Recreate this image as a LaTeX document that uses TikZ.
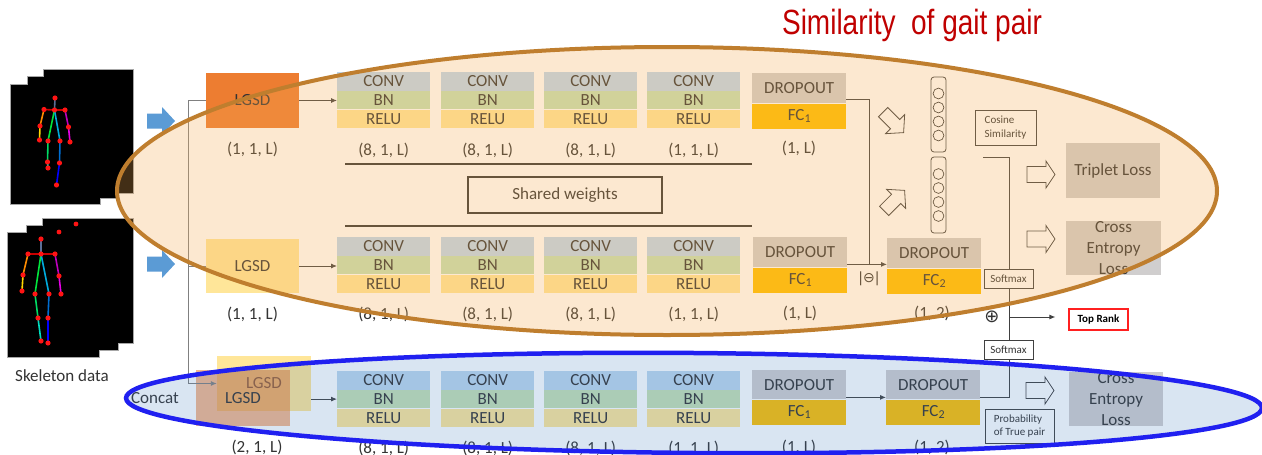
\documentclass[tikz,border=0pt]{standalone}
\usepackage{fontspec}
\usepackage{graphicx}
\setmainfont{Carlito}
\newfontfamily\titlefont{Liberation Sans}
\newfontfamily\symfont{DejaVu Sans}
\usetikzlibrary{calc,arrows.meta}

% palette
\definecolor{txt}{HTML}{333333}
\definecolor{convc}{HTML}{BDD7EE}
\definecolor{bnc}{HTML}{C5E0B4}
\definecolor{reluc}{HTML}{FFE699}
\definecolor{dropc}{HTML}{D0CECE}
\definecolor{fcc}{HTML}{FFC000}
\definecolor{lgsdo}{HTML}{ED7D31}
\definecolor{lossc}{HTML}{D0CECE}
\definecolor{peach}{rgb}{0.96,0.68,0.33}
\definecolor{tintblue}{HTML}{447DC0}
\definecolor{ringo}{HTML}{BF7E2E}
\definecolor{ringb}{HTML}{2020F0}
\definecolor{arrowblue}{HTML}{5B9BD5}
\definecolor{titlered}{HTML}{C00000}
\definecolor{wirec}{HTML}{404040}
\definecolor{trunkc}{HTML}{808080}
\definecolor{framegray}{HTML}{A6A6A6}
\definecolor{rankred}{HTML}{FF2020}
% limb colours of the stick figures
\definecolor{limbhead}{RGB}{90,110,150}
\definecolor{limbsh}{RGB}{200,0,0}
\definecolor{limblua}{RGB}{255,140,0}
\definecolor{limblfa}{RGB}{255,215,0}
\definecolor{limbrua}{RGB}{190,0,190}
\definecolor{limbrfa}{RGB}{230,0,230}
\definecolor{limbltr}{RGB}{0,230,60}
\definecolor{limblth}{RGB}{0,220,100}
\definecolor{limblsh}{RGB}{0,220,190}
\definecolor{limbrtr}{RGB}{0,170,220}
\definecolor{limbrth}{RGB}{0,110,210}
\definecolor{limbrsh}{RGB}{0,0,255}
\definecolor{jointc}{RGB}{255,20,20}

\tikzset{
  band/.style={draw=none, inner sep=0pt, minimum width=93pt, minimum height=18.33pt,
    anchor=north west, text=txt, font=\fontsize{17}{20}\selectfont},
  lbl/.style={text=txt, font=\fontsize{17}{20}\selectfont, inner sep=0pt},
  tiny/.style={text=txt, font=\fontsize{11}{13.5}\selectfont, inner sep=0pt},
  wire/.style={draw=wirec, line width=0.9pt},
  trunkline/.style={draw=trunkc, line width=0.9pt},
  tip/.style={-{Latex[length=6pt,width=5pt]}},
  lossbox/.style={fill=lossc, inner sep=0pt, text=txt, align=center,
    font=\fontsize{17}{21}\selectfont},
  smallbox/.style={draw=wirec, line width=0.6pt, fill=white, inner sep=0pt},
  blockarrow/.pic={\fill[arrowblue] (-14,-7.5) -- (1,-7.5) -- (1,-14) -- (14,0)
    -- (1,14) -- (1,7.5) -- (-14,7.5) -- cycle;},
  outlinearrow/.pic={\filldraw[fill=white, draw=wirec, line width=0.8pt]
    (-14,-8) -- (5,-8) -- (5,-13.5) -- (14,0) -- (5,13.5) -- (5,8) -- (-14,8) -- cycle;},
  diagarrow/.pic={\filldraw[fill=white, draw=wirec, line width=0.8pt]
    (-14,-6.5) -- (3,-6.5) -- (3,-13.5) -- (15,0) -- (3,13.5) -- (3,6.5) -- (-14,6.5) -- cycle;},
}

% CONV / BN / RELU stack: name, left x, top y
\newcommand\cbrstack[3]{%
  \node[band, fill=convc] (#1c) at (#2,#3) {CONV};
  \node[band, fill=bnc] (#1b) at (#1c.south west) {BN};
  \node[band, fill=reluc] (#1r) at (#1b.south west) {RELU};}

% DROPOUT / FC block: name, left x, top y, index, dropout height
\newcommand\dfcblock[5]{%
  \node[band, minimum width=94pt, minimum height=#5pt, fill=dropc] (#1d) at (#2,#3) {DROPOUT};
  \node[band, minimum width=94pt, minimum height=25pt, fill=fcc] (#1f) at (#1d.south west)
    {FC\raisebox{-1.5pt}{\fontsize{12}{12}\selectfont #4}};}

% stick figure through the joints named #1h, #1n, ...
\newcommand\skeleton[1]{%
  \begin{scope}[line width=1.6pt, line cap=round]
    \draw[limbhead] (#1h) -- (#1n);
    \draw[limbsh] (#1ls) -- (#1n) -- (#1rs);
    \draw[limblua] (#1ls) -- (#1le);
    \draw[limblfa] (#1le) -- (#1lw);
    \draw[limbrua] (#1rs) -- (#1re);
    \draw[limbrfa] (#1re) -- (#1rw);
    \draw[limbltr] (#1n) -- (#1lh);
    \draw[limblth] (#1lh) -- (#1lk);
    \draw[limblsh] (#1lk) -- (#1la);
    \draw[limbrtr] (#1n) -- (#1rh);
    \draw[limbrth] (#1rh) -- (#1rk);
    \draw[limbrsh] (#1rk) -- (#1ra);
  \end{scope}
  \foreach \j in {h,n,ls,rs,le,re,lw,rw,lh,rh,lk,rk,la,ra}
    \fill[jointc] (#1\j) circle (2.6pt);}

\begin{document}
\begin{tikzpicture}[x=1pt,y=-1pt]
\useasboundingbox (0,0) rectangle (1262,455);
\fill[white] (0,0) rectangle (1262,455);

% ---------- skeleton frames: outlines first, then the black faces ----------
\foreach \xa/\ya/\xb/\yb in {44/70/133/193, 28/77/117/198, 11/85/100/204,
                             43/219/133/343, 27/226/118/350, 8/233/99/357}
  \draw[framegray, line width=1.2pt] (\xa,\ya) rectangle (\xb,\yb);
\foreach \xa/\ya/\xb/\yb in {44/70/133/193, 28/77/117/198, 11/85/100/204,
                             43/219/133/343, 27/226/118/350, 8/233/99/357}
  \fill[black] (\xa,\ya) rectangle (\xb,\yb);

\foreach \n/\x/\y in {h/55/98, n/54.5/110, ls/44/109.5, rs/65/110, le/40/126, re/68.5/127,
                      lw/39.5/140, rw/70/142, lh/48/141, rh/60/141, lk/47.5/162, rk/59.5/163,
                      la/48/168, ra/56.5/185}
  \coordinate (a\n) at (\x,\y);
\foreach \n/\x/\y in {h/41/239, n/41/254, ls/28/254, rs/55/254, le/23/275, re/59/276,
                      lw/22/291, rw/61/294, lh/35/294, rh/49/294, lk/38/318, rk/48/318,
                      la/41/341, ra/48/343}
  \coordinate (b\n) at (\x,\y);
\skeleton{a}
\skeleton{b}
\fill[jointc] (59,232) circle (2.4pt) (76,224) circle (2.4pt);

\node[lbl] (skel) at (62,376) {Skeleton data};
\pic at (161,121) {blockarrow};
\pic at (161,264) {blockarrow};

% ---------- LGSD inputs ----------
\node[lbl, fill=lgsdo, minimum width=93pt, minimum height=55pt] (lgsdA) at (252.5,100.5) {LGSD};
\node[lbl] (dimLA) at (252.5,149) {(1, 1, L)};
\node[lbl, fill=reluc, minimum width=93pt, minimum height=54pt] (lgsdB) at (252.5,266) {LGSD};
\node[lbl] (dimLB) at (252.5,314) {(1, 1, L)};
\node[lbl, fill=reluc, minimum width=94pt, minimum height=55pt] (lgsdCy) at (264,383.5) {LGSD};
\node[lbl, fill=lgsdo, fill opacity=0.55, text opacity=1, minimum width=94pt, minimum height=56pt]
  (lgsdC) at (243,398) {\raisebox{-2pt}{LGSD}};
\node[lbl] (dimLC) at (257,447) {(2, 1, L)};
\node[lbl] (concat) at (155,398) {Concat};

\coordinate (trunk) at (188,0);
\draw[trunkline] (lgsdA.west) -- (lgsdA.west -| trunk) -- (lgsdCy.west -| trunk);
\draw[trunkline, tip] (lgsdCy.west -| trunk) -- (lgsdCy.west);
\draw[trunkline] (lgsdB.west -| trunk) -- (lgsdB.west);

% ---------- convolution stacks ----------
\cbrstack{sA1}{337}{72}  \cbrstack{sA2}{441}{72}  \cbrstack{sA3}{544}{72}  \cbrstack{sA4}{647}{72}
\cbrstack{sB1}{337}{237} \cbrstack{sB2}{441}{237} \cbrstack{sB3}{544}{237} \cbrstack{sB4}{647}{237}
\cbrstack{sC1}{337}{371} \cbrstack{sC2}{441}{371} \cbrstack{sC3}{544}{371} \cbrstack{sC4}{647}{371}

\foreach \r/\d in {A/22, B/21, C/21} {
  \node[lbl] (dim\r1) at ($(s\r1r.south)+(0,\d)$) {(8, 1, L)};
  \node[lbl] (dim\r2) at ($(s\r2r.south)+(0,\d)$) {(8, 1, L)};
  \node[lbl] (dim\r3) at ($(s\r3r.south)+(0,\d)$) {(8, 1, L)};
  \node[lbl] (dim\r4) at ($(s\r4r.south)+(0,\d)$) {(1, 1, L)};
}

\draw[wire, tip] (lgsdA.east) -- (lgsdA.east -| sA1b.west);
\draw[wire, tip] (lgsdB.east) -- (lgsdB.east -| sB1b.west);
\draw[wire, tip] (sC1b.west -| lgsdCy.east) -- (sC1b.west);

% shared weights
\draw[txt, line width=1.3pt] (345,164) -- (752,164);
\draw[txt, line width=1.3pt] (345,226) -- (752,226);
\node[lbl, draw=txt, line width=1.3pt, minimum width=194pt, minimum height=36pt] (shared)
  at (565,195) {Shared weights};

% ---------- dropout / fully connected ----------
\dfcblock{fA}{752}{73}{1}{30}
\dfcblock{fB}{753}{237}{1}{30}
\dfcblock{fC}{752}{370}{1}{29}
\dfcblock{gB}{887}{238}{2}{30}
\dfcblock{gC}{886}{370}{2}{29}
\node[lbl] (dimFA) at (799,148) {(1, L)};
\node[lbl] (dimFB) at (800,313) {(1, L)};
\node[lbl] (dimFC) at (799,447) {(1, L)};
\node[lbl] (dimGB) at (932,313) {(1, 2)};
\node[lbl] (dimGC) at (932,447) {(1, 2)};

\coordinate (join) at ($(gBd.south west)+(-18,-4)$);
\draw[wire] ($(fAd.south east)+(0,-4)$) -| (join);
\draw[wire] (join -| fBd.east) -- (join);
\draw[wire, tip] (join) -- (join -| gBd.west);
\node[text=txt, inner sep=0pt, font=\symfont\fontsize{14}{14}\selectfont] (absdiff) at (869,279) {|⊖|};
\coordinate (fcout) at ($(fCf.north east)+(0,-2)$);
\draw[wire, tip] (fcout) -- (fcout -| gCd.west);

% ---------- embeddings ----------
\node[draw=wirec, line width=0.8pt, rounded corners=3pt, minimum width=15pt, minimum height=75pt,
      inner sep=0pt] (vecA) at (938.5,114.5) {};
\node[draw=wirec, line width=0.8pt, rounded corners=3pt, minimum width=15pt, minimum height=76pt,
      inner sep=0pt] (vecB) at (938.5,195) {};
\foreach \k in {0,1,2,3} {
  \draw[wirec, line width=0.7pt] ($(vecA.center)+(0,-21+14*\k)$) circle (5.4pt);
  \draw[wirec, line width=0.7pt] ($(vecB.center)+(0,-21+14*\k)$) circle (5.4pt);
}
\pic[rotate=-45] at (893,122) {diagarrow};
\pic[rotate=45] at (894,201) {diagarrow};

\node[tiny, smallbox, align=left, minimum width=61pt, minimum height=35pt] (cosine)
  at (1005.5,127.5) {Cosine\\Similarity};

% ---------- heads ----------
\coordinate (cs) at (983,157);
\coordinate (ju) at (1009,157);
\coordinate (jb) at ($(ju |- gCd.south)+(0,-2)$);
\draw[wire] (cs) -- (ju) -- (jb) -- (jb -| gCd.east);
\node[tiny, smallbox, minimum width=49pt, minimum height=19pt] (smA) at (1008.5,278.5) {Softmax};
\node[tiny, smallbox, minimum width=49pt, minimum height=19pt] (smB) at (1008.5,349.5) {Softmax};
\node[text=txt, inner sep=0pt, font=\symfont\fontsize{18}{18}\selectfont] (plus) at (992,317) {⊕};
\node[tiny, draw=rankred, line width=1.2pt, fill=white, minimum width=59pt, minimum height=21pt,
      font=\bfseries\fontsize{11}{13}\selectfont, text=black] (rank) at (1098.5,319.5) {Top Rank};
\coordinate (rankin) at ($(rank.west)+(-13,0)$);
\draw[wire, tip] (plus -| ju) -- (plus -| rankin);
\node[tiny, smallbox, align=left, minimum width=69pt, minimum height=34pt] (prob)
  at (1019.5,426) {Probability\\of True pair};

\node[lossbox, minimum width=94pt, minimum height=55pt] (triplet) at (1113,170.5) {Triplet Loss};
\node[lossbox, minimum width=95pt, minimum height=54pt] (ceA) at (1113.5,248) {Cross\\Entropy\\Loss};
\node[lossbox, minimum width=94pt, minimum height=54pt] (ceB) at (1116,399) {Cross\\Entropy\\Loss};
\pic at (1041,174.5) {outlinearrow};
\pic at (1041,239) {outlinearrow};
\pic at (1040,390.5) {outlinearrow};

% ---------- grouping rings ----------
\fill[peach, fill opacity=0.27] (667,191) ellipse [x radius=550pt, y radius=144pt];
\fill[tintblue, fill opacity=0.2, rotate around={-0.5:(694,403)}]
  (694,403) ellipse [x radius=568pt, y radius=50pt];
\draw[ringo, line width=4pt] (667,191) ellipse [x radius=550pt, y radius=144pt];
\draw[ringb, line width=4.5pt, rotate around={-0.5:(694,403)}]
  (694,403) ellipse [x radius=568pt, y radius=50pt];

\node[text=titlered, inner sep=0pt, font=\titlefont\fontsize{35}{35}\selectfont] (title)
  at (912,25) {\scalebox{0.8}[1]{Similarity\ \ of gait pair}};
\end{tikzpicture}
\end{document}
